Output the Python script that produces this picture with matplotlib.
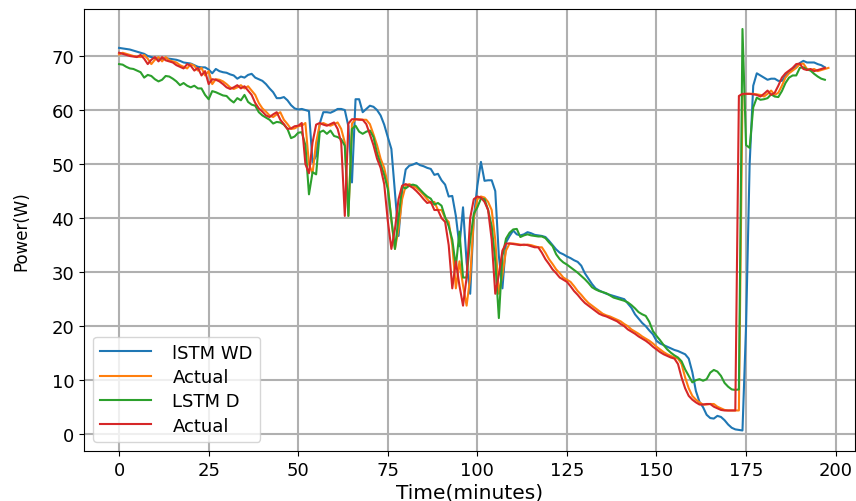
import numpy as np
import matplotlib
matplotlib.use('Agg')
import matplotlib.pyplot as plt

# actual power, one value per minute (0..198)
actual = [70.3, 70.6, 70.4, 70.2, 70.0, 69.9, 69.8, 70.2, 69.5, 68.5,
          69.3, 69.8, 69.0, 69.8, 69.2, 69.0, 68.8, 68.3, 68.0, 67.7,
          68.5, 68.2, 67.3, 67.8, 66.4, 67.2, 64.8, 65.7, 65.6, 65.3,
          64.8, 64.2, 63.9, 64.2, 64.6, 64.0, 64.4, 63.6, 62.8, 61.3,
          60.3, 59.7, 59.0, 58.7, 59.2, 59.6, 58.2, 57.4, 56.5, 56.6,
          57.0, 57.1, 57.6, 50.0, 48.3, 54.0, 57.3, 57.6, 57.3, 57.1,
          57.4, 57.7, 56.5, 54.0, 40.4, 57.5, 58.3, 58.3, 58.2, 58.2,
          57.4, 55.5, 53.5, 51.0, 49.3, 46.3, 39.5, 34.3, 38.0, 43.5,
          46.0, 46.3, 46.0, 45.6, 45.0, 44.3, 43.5, 42.8, 43.0, 41.5,
          41.5, 40.0, 39.3, 35.0, 27.0, 32.0, 27.5, 23.8, 29.0, 40.0,
          43.5, 44.0, 43.8, 43.0, 41.5, 36.0, 26.0, 29.5, 34.0, 35.3,
          35.3, 35.2, 35.1, 35.0, 35.1, 35.0, 34.8, 34.6, 34.6, 33.6,
          32.4, 31.5, 30.5, 29.8, 29.0, 28.6, 28.2, 27.4, 26.5, 25.8,
          25.0, 24.3, 23.8, 23.3, 22.8, 22.3, 22.0, 21.8, 21.5, 21.2,
          20.9, 20.4, 20.0, 19.4, 19.0, 18.6, 18.1, 17.7, 17.3, 16.8,
          16.2, 15.7, 15.2, 14.8, 14.5, 14.2, 14.0, 13.0, 10.5, 8.5,
          7.1, 6.4, 5.9, 5.5, 5.5, 5.6, 5.6, 5.1, 4.8, 4.5,
          4.4, 4.4, 4.4, 4.4, 62.6, 63.0, 63.0, 63.0, 62.9, 62.8,
          62.5, 63.0, 63.6, 62.8, 63.2, 64.5, 66.0, 66.8, 67.3, 67.8,
          68.5, 68.6, 67.6, 67.4, 67.6, 67.2, 67.4, 67.6, 67.8]

# LSTM with weather data prediction
lstm_wd = [71.5, 71.4, 71.3, 71.2, 71.0, 70.8, 70.6, 70.4, 70.0, 69.8,
           69.6, 69.5, 69.4, 69.6, 69.5, 69.4, 69.3, 69.1, 68.8, 68.7,
           68.6, 68.3, 68.0, 67.9, 67.9, 67.5, 66.8, 67.6, 67.2, 67.0,
           66.9, 66.6, 66.4, 65.8, 66.2, 66.0, 66.5, 66.7, 66.0, 65.7,
           65.4, 64.8, 64.0, 63.3, 62.2, 62.2, 62.4, 61.8, 60.9, 60.3,
           60.1, 60.2, 60.0, 59.8, 50.3, 51.5, 57.5, 59.6, 59.6, 59.5,
           59.8, 60.2, 60.2, 60.0, 57.0, 46.6, 62.0, 62.0, 59.6, 60.2,
           60.8, 60.6, 60.0, 59.0, 57.3, 55.0, 52.8, 44.8, 36.7, 45.0,
           49.0, 49.7, 49.9, 50.2, 49.8, 49.6, 49.3, 49.1, 48.0, 48.2,
           47.0, 46.2, 44.0, 44.1, 40.4, 34.8, 42.0, 31.8, 26.0, 40.0,
           46.0, 50.4, 46.9, 47.0, 47.0, 45.0, 33.0, 27.0, 35.5, 36.7,
           37.7, 37.0, 36.8, 37.0, 37.4, 37.2, 36.9, 36.8, 36.7, 36.5,
           35.8, 35.0, 34.2, 33.6, 33.3, 32.9, 32.6, 32.2, 31.9, 31.2,
           29.8, 28.8, 27.8, 27.0, 26.6, 26.3, 26.0, 25.8, 25.6, 25.4,
           25.2, 25.0, 24.2, 23.4, 22.2, 21.4, 20.6, 20.0, 19.2, 18.5,
           17.3, 16.8, 16.5, 16.2, 15.9, 15.6, 15.4, 15.1, 14.8, 14.0,
           11.5, 8.0, 6.0, 5.0, 3.6, 3.0, 2.9, 3.4, 3.2, 2.6,
           1.8, 1.2, 0.9, 0.8, 0.7, 20.0, 50.0, 64.5, 66.8, 66.4,
           66.0, 65.6, 65.8, 65.8, 65.4, 65.4, 66.3, 67.1, 67.6, 68.0,
           68.7, 69.1, 68.8, 68.8, 68.8, 68.5, 68.3, 67.9]

# LSTM without weather data prediction
lstm_d = [68.5, 68.4, 68.0, 67.7, 67.6, 67.3, 67.0, 66.0, 66.5, 66.3,
          65.7, 65.3, 65.6, 66.3, 66.2, 65.8, 65.3, 64.6, 65.0, 64.5,
          64.2, 64.5, 64.0, 64.0, 62.8, 62.0, 63.5, 63.3, 63.0, 62.7,
          62.6, 61.9, 61.4, 62.2, 61.8, 62.8, 61.5, 61.0, 60.8, 59.6,
          59.0, 58.6, 58.2, 57.5, 57.8, 57.7, 57.3, 56.5, 54.8, 55.1,
          55.8, 55.9, 53.5, 44.4, 48.5, 48.1, 55.9, 56.2, 55.6, 56.2,
          55.2, 55.0, 54.6, 53.4, 40.4, 56.5, 57.1, 56.0, 55.6, 56.0,
          56.2, 55.0, 52.0, 50.0, 48.0, 45.4, 39.8, 34.3, 40.0, 45.8,
          45.5, 46.0, 46.2, 46.0, 45.3, 44.6, 44.0, 43.6, 42.5, 42.8,
          42.3, 40.2, 38.5, 36.0, 31.0, 37.5, 29.0, 29.0, 36.0, 40.8,
          42.0, 43.6, 43.5, 41.5, 38.5, 32.0, 21.5, 33.0, 36.2, 37.3,
          37.9, 38.0, 36.5, 36.8, 37.0, 36.8, 36.7, 36.6, 36.6, 36.3,
          35.5, 34.8, 33.3, 32.4, 31.8, 31.4, 30.9, 30.4, 29.9, 29.3,
          28.7, 28.0, 27.2, 26.8, 26.5, 26.3, 26.1, 25.7, 25.3, 25.1,
          24.9, 24.7, 24.4, 23.9, 23.3, 22.6, 22.2, 21.9, 20.8, 19.1,
          18.2, 17.4, 16.5, 15.7, 15.1, 14.6, 14.2, 13.5, 12.0, 10.8,
          9.6, 10.0, 10.2, 9.9, 10.2, 11.4, 11.9, 11.6, 10.8, 9.5,
          8.8, 8.3, 8.2, 8.3, 75.0, 53.5, 53.0, 60.5, 62.3, 61.9,
          62.0, 62.2, 62.9, 62.5, 62.4, 63.5, 65.0, 66.0, 66.4, 66.4,
          67.8, 67.9, 67.5, 67.3, 66.7, 66.2, 65.8, 65.6]

# second "Actual" curve is the same series one step earlier
actual_2 = actual[1:]

t_act = np.arange(len(actual))
t_wd = np.arange(len(lstm_wd))
t_d = np.arange(len(lstm_d))
t_act2 = np.arange(len(actual_2))

fig = plt.figure(figsize=(8.56, 5.02), dpi=100)
ax = fig.add_axes([0.0981, 0.0996, 0.9007, 0.8805])

ax.plot(t_wd, lstm_wd, color='tab:blue', lw=1.5, label='lSTM WD')
ax.plot(t_act, actual, color='tab:orange', lw=1.5, label='Actual')
ax.plot(t_d, lstm_d, color='tab:green', lw=1.5, label='LSTM D')
ax.plot(t_act2, actual_2, color='tab:red', lw=1.5, label='Actual')

ax.set_xlim(-9.8, 205.4)
ax.set_ylim(-3.1, 78.7)
ax.set_xticks([0, 25, 50, 75, 100, 125, 150, 175, 200])
ax.set_yticks([0, 10, 20, 30, 40, 50, 60, 70])
ax.tick_params(labelsize=13)
ax.grid(True, color='#b0b0b0', lw=1.5)

ax.set_xlabel('Time(minutes)', fontsize=14.5, labelpad=3)
ax.set_ylabel('Power(W)', fontsize=12, family=['Liberation Sans Narrow', 'DejaVu Sans'],
              labelpad=15)
ax.legend(loc='lower left', fontsize=13, handlelength=2.8, handletextpad=1.2,
          labelspacing=0.35, borderpad=0.4)

fig.savefig('out.png', dpi=100)
